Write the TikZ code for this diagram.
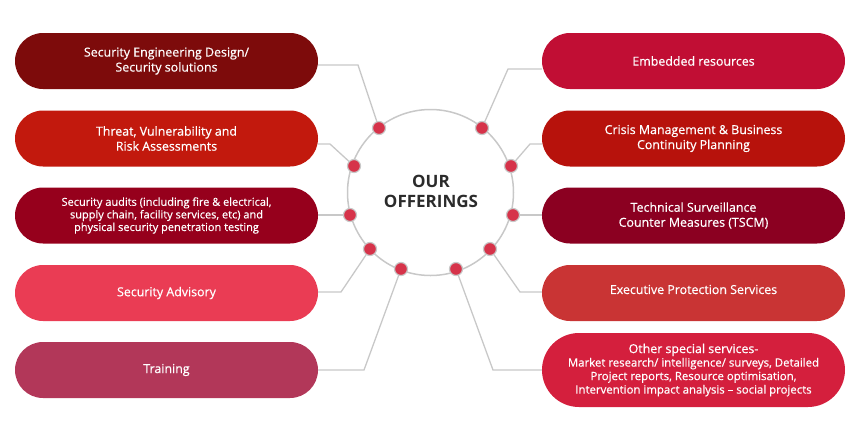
\documentclass[tikz,border=0pt]{standalone}
\usepackage{fontspec}
\setmainfont{Open Sans}
\newfontfamily\osb{Open Sans}[FakeBold=0.5]
\definecolor{cL1}{HTML}{7D0B0B}
\definecolor{cL2}{HTML}{C2190D}
\definecolor{cL3}{HTML}{96001C}
\definecolor{cL4}{HTML}{EA3C54}
\definecolor{cL5}{HTML}{B23759}
\definecolor{cR1}{HTML}{C10E34}
\definecolor{cR2}{HTML}{B7120C}
\definecolor{cR3}{HTML}{8B0021}
\definecolor{cR4}{HTML}{C93434}
\definecolor{cR5}{HTML}{D41F3D}
\definecolor{lineg}{HTML}{C8C8C8}
\definecolor{dotc}{HTML}{D6334A}
\definecolor{titlec}{HTML}{2B2B2B}
\tikzset{
  pill/.style={minimum width=303pt, minimum height=56pt, rounded corners=28pt, inner sep=0pt, text=white, align=center, font=\osb\fontsize{12.4}{15}\selectfont},
  small/.style={font=\osb\fontsize{11}{12.6}\selectfont},
  conn/.style={draw=lineg, line width=1.3pt},
  dotn/.style={circle, fill=dotc, draw=lineg, line width=1.2pt, minimum size=13pt, inner sep=0pt},
}
\begin{document}
\begin{tikzpicture}[x=1pt,y=-1pt]
\useasboundingbox (0,0) rectangle (860,440);
% central circle
\node[circle, draw=lineg, line width=1.5pt, minimum size=166pt, inner sep=0pt] (C) at (430.5,192.5) {};
\node[text=titlec, align=center, font=\fontsize{17}{20}\bfseries\selectfont] (T) at (431,191) {OUR\\OFFERINGS};
% left boxes
\node[pill, fill=cL1] (L1) at (166.5,61) {Security Engineering Design/\\Security solutions};
\node[pill, fill=cL2] (L2) at (166.5,138.5) {Threat, Vulnerability and\\Risk Assessments};
\node[pill, small, fill=cL3] (L3) at (166.5,215.5) {Security audits (including fire \& electrical,\\supply chain, facility services, etc) and\\physical security penetration testing};
\node[pill, fill=cL4] (L4) at (166.5,293) {Security Advisory};
\node[pill, fill=cL5] (L5) at (166.5,370) {Training};
% right boxes
\node[pill, fill=cR1] (R1) at (693.5,61) {Embedded resources};
\node[pill, fill=cR2] (R2) at (693.5,138.5) {Crisis Management \& Business\\Continuity Planning};
\node[pill, fill=cR3] (R3) at (693.5,215.5) {Technical Surveillance\\Counter Measures (TSCM)};
\node[pill, fill=cR4] (R4) at (693.5,293) {};
\node[pill, minimum width=0pt, minimum height=0pt] (R4t) at (693.5,289.5) {Executive Protection Services};
\node[pill, fill=cR5, minimum height=74pt, rounded corners=37pt] (R5) at (693.5,370) {Other special services-\\[-1.5pt]{\fontsize{11.4}{13.3}\selectfont Market research/ intelligence/ surveys, Detailed}\\[-1.5pt]{\fontsize{11.4}{13.3}\selectfont Project reports, Resource optimisation,}\\[-1.5pt]{\fontsize{11.4}{13.3}\selectfont Intervention impact analysis – social projects}};
% dots
\coordinate (dL1) at (379,128);
\coordinate (dL2) at (354,166);
\coordinate (dL3) at (350,215);
\coordinate (dL4) at (370,249);
\coordinate (dL5) at (401,269);
\coordinate (dR1) at (482,128);
\coordinate (dR2) at (511,166);
\coordinate (dR3) at (513,215);
\coordinate (dR4) at (490,249);
\coordinate (dR5) at (456,269);
% bends
\coordinate (bL1) at (358,65);
\coordinate (bL2) at (330,144);
\coordinate (bL4) at (341,292);
\coordinate (bL5) at (364,370);
\coordinate (bR1) at (508,69);
\coordinate (bR2) at (530,144);
\coordinate (bR4) at (520,292);
\coordinate (bR5) at (493,370);
% connectors
\draw[conn] (L1.east |- bL1) -- (bL1) -- (dL1);
\draw[conn] (L2.east |- bL2) -- (bL2) -- (dL2);
\draw[conn] (L3.east |- dL3) -- (dL3);
\draw[conn] (L4.east |- bL4) -- (bL4) -- (dL4);
\draw[conn] (L5.east |- bL5) -- (bL5) -- (dL5);
\draw[conn] (R1.west |- bR1) -- (bR1) -- (dR1);
\draw[conn] (R2.west |- bR2) -- (bR2) -- (dR2);
\draw[conn] (R3.west |- dR3) -- (dR3);
\draw[conn] (R4.west |- bR4) -- (bR4) -- (dR4);
\draw[conn] (R5.west |- bR5) -- (bR5) -- (dR5);
\foreach \d in {dL1,dL2,dL3,dL4,dL5,dR1,dR2,dR3,dR4,dR5}
  \node[dotn] (n\d) at (\d) {};
\end{tikzpicture}
\end{document}
